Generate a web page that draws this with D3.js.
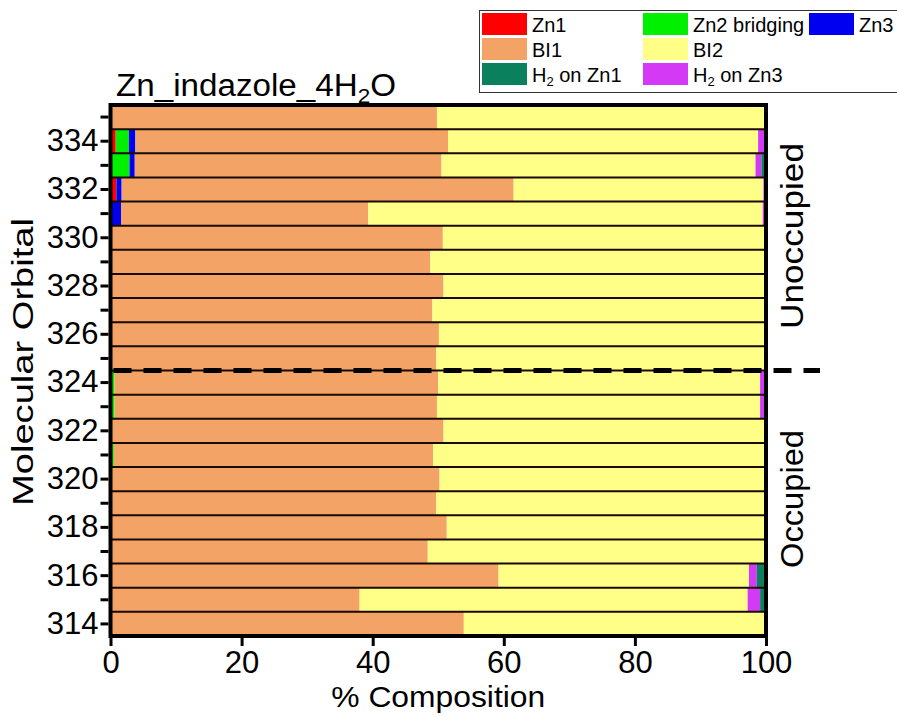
<!DOCTYPE html>
<html><head><meta charset="utf-8">
<script src="https://cdn.jsdelivr.net/npm/d3@7"></script>
<style>body{margin:0;background:#fff}svg{display:block;font-family:"Liberation Sans",Arial,sans-serif}</style>
</head><body><svg id="c" width="897" height="717"></svg>
<script>
const orbitals = [314,315,316,317,318,319,320,321,322,323,324,325,326,327,328,329,330,331,332,333,334,335];
const seriesNames = ["Zn1","Zn2 bridging","Zn3","BI1","BI2","H2O on Zn3","H2O on Zn1"];
const zn1   = [0,0,0,0,0,0,0,0,0,0,0,0,0,0,0,0,0,0,0.9,0,0.8,0];
const zn2   = [0,0,0,0,0,0,0,0.5,0,0.6,0.6,0,0,0,0,0,0,0,0,2.9,2.0,0];
const zn3   = [0,0,0,0,0,0,0,0,0,0,0,0,0,0,0,0,0,1.6,0.8,0.8,1.0,0];
const bi1   = [53.9,38.0,59.2,48.4,51.3,49.7,50.2,48.7,50.8,49.2,49.4,49.7,50.1,49.1,50.8,48.8,50.7,37.7,59.8,46.8,47.7,49.8];
const bi2   = [46.1,59.2,38.2,51.4,48.4,50.3,49.8,50.8,49.2,49.3,49.1,50.3,49.9,50.9,49.2,51.2,49.3,60.2,38.1,47.9,47.3,50.2];
const h2oZn3= [0,1.9,1.2,0.2,0.3,0,0,0,0,0.6,0.6,0,0,0,0,0,0,0.5,0.4,0.9,0.9,0];
const h2oZn1= [0,0.9,1.4,0,0,0,0,0,0,0.3,0.3,0,0,0,0,0,0,0,0,0.7,0.3,0];
const xTicks = [0,20,40,60,80,100];
const yTickLabels = [314,316,318,320,322,324,326,328,330,332,334];
const homoLumoBetween = [324,325];

const colors = {"Zn1":"#ff0000","Zn2 bridging":"#00f000","Zn3":"#0000f0","BI1":"#f2a365","BI2":"#ffff88","H2O on Zn1":"#0b805c","H2O on Zn3":"#d43af5"};
const seriesData = {"Zn1":zn1,"Zn2 bridging":zn2,"Zn3":zn3,"BI1":bi1,"BI2":bi2,"H2O on Zn3":h2oZn3,"H2O on Zn1":h2oZn1};

const rows = orbitals.map((mo,i)=>{const r={mo};seriesNames.forEach(s=>r[s]=seriesData[s][i]);return r;});
const stack = d3.stack().keys(seriesNames)(rows);

const svg = d3.select("#c");
const L=110.5, R=766, T=105, B=636;
const x = d3.scaleLinear().domain([0,100]).range([L,R]);
const y = d3.scaleBand().domain(orbitals.slice().reverse()).range([T,B]).padding(0);

const g = svg.append("g");
stack.forEach(layer=>{
  g.selectAll(null).data(layer).enter().append("rect")
   .attr("x",d=>x(d[0])).attr("width",d=>Math.max(0,x(d[1])-x(d[0])))
   .attr("y",d=>y(d.data.mo)).attr("height",y.bandwidth())
   .attr("fill",colors[layer.key]);
});
// bar separators
g.selectAll(null).data(orbitals).enter().append("line")
 .attr("x1",L).attr("x2",R).attr("y1",d=>y(d)).attr("y2",d=>y(d))
 .attr("stroke","#1a0a05").attr("stroke-width",2);

// dashed HOMO/LUMO line
const yd = y(homoLumoBetween[0]);
svg.append("line").attr("x1",L+3).attr("x2",820).attr("y1",yd).attr("y2",yd)
 .attr("stroke","#000").attr("stroke-width",5).attr("stroke-dasharray","18,12");

// frame
svg.append("rect").attr("x",L).attr("y",T).attr("width",R-L).attr("height",B-T)
 .attr("fill","none").attr("stroke","#000").attr("stroke-width",4);

const FF = "Liberation Sans, Arial, sans-serif";
// x axis
const xa = svg.append("g").attr("transform",`translate(0,${B+2})`)
 .call(d3.axisBottom(x).tickValues(xTicks).tickSize(8).tickPadding(5).tickFormat(d3.format("d")));
xa.select(".domain").remove();
xa.selectAll("line").attr("stroke","#000").attr("stroke-width",3);
xa.selectAll("text").attr("font-size",31).attr("fill","#000").attr("font-family",FF);

// y axis
const ya = svg.append("g").attr("transform",`translate(${L-2},0)`)
 .call(d3.axisLeft(y).tickSize(8).tickPadding(2).tickFormat(d=>yTickLabels.includes(d)?d:""));
ya.select(".domain").remove();
ya.selectAll("line").attr("stroke","#000").attr("stroke-width",3);
ya.selectAll("text").attr("font-size",31).attr("fill","#000").attr("font-family",FF);

// axis titles
svg.append("text").attr("x",(L+R)/2).attr("y",707).attr("text-anchor","middle")
 .attr("font-size",30).attr("textLength",214).attr("lengthAdjust","spacingAndGlyphs").text("% Composition");
svg.append("text").attr("transform",`translate(33,362) rotate(-90)`).attr("text-anchor","middle")
 .attr("font-size",30).attr("textLength",288).attr("lengthAdjust","spacingAndGlyphs").text("Molecular Orbital");
svg.append("text").attr("transform",`translate(803,236) rotate(-90)`).attr("text-anchor","middle")
 .attr("font-size",31).attr("textLength",186).attr("lengthAdjust","spacingAndGlyphs").text("Unoccupied");
svg.append("text").attr("transform",`translate(803,499) rotate(-90)`).attr("text-anchor","middle")
 .attr("font-size",31).attr("textLength",138).attr("lengthAdjust","spacingAndGlyphs").text("Occupied");

// title
const t = svg.append("text").attr("x",116).attr("y",96).attr("font-size",31)
 .attr("textLength",280).attr("lengthAdjust","spacingAndGlyphs");
t.append("tspan").text("Zn_indazole_4H");
t.append("tspan").attr("font-size",21).attr("dy",7).text("2");
t.append("tspan").attr("dy",-7).text("O");

// legend
const lg = svg.append("g");
lg.append("rect").attr("x",479.5).attr("y",10.5).attr("width",430).attr("height",82)
 .attr("fill","#fff").attr("stroke","#333").attr("stroke-width",1);
const legendOrder = ["Zn1","Zn2 bridging","Zn3","BI1","BI2","","H2O on Zn1","H2O on Zn3"];
const colX = [482,643,809], rowY=[13,38,63];
legendOrder.forEach((k,i)=>{
  if(!k) return;
  const cx=colX[i%3], cy=rowY[Math.floor(i/3)];
  lg.append("rect").attr("x",cx).attr("y",cy).attr("width",45).attr("height",22).attr("fill",colors[k]);
  const tx = lg.append("text").attr("x",cx+50).attr("y",cy+19).attr("font-size",20);
  if(k.startsWith("H2O")){
    tx.append("tspan").text("H");
    tx.append("tspan").attr("font-size",13).attr("dy",4).text("2");
    tx.append("tspan").attr("dy",-4).text(k.slice(3));
  } else tx.text(k);
});
</script></body></html>
